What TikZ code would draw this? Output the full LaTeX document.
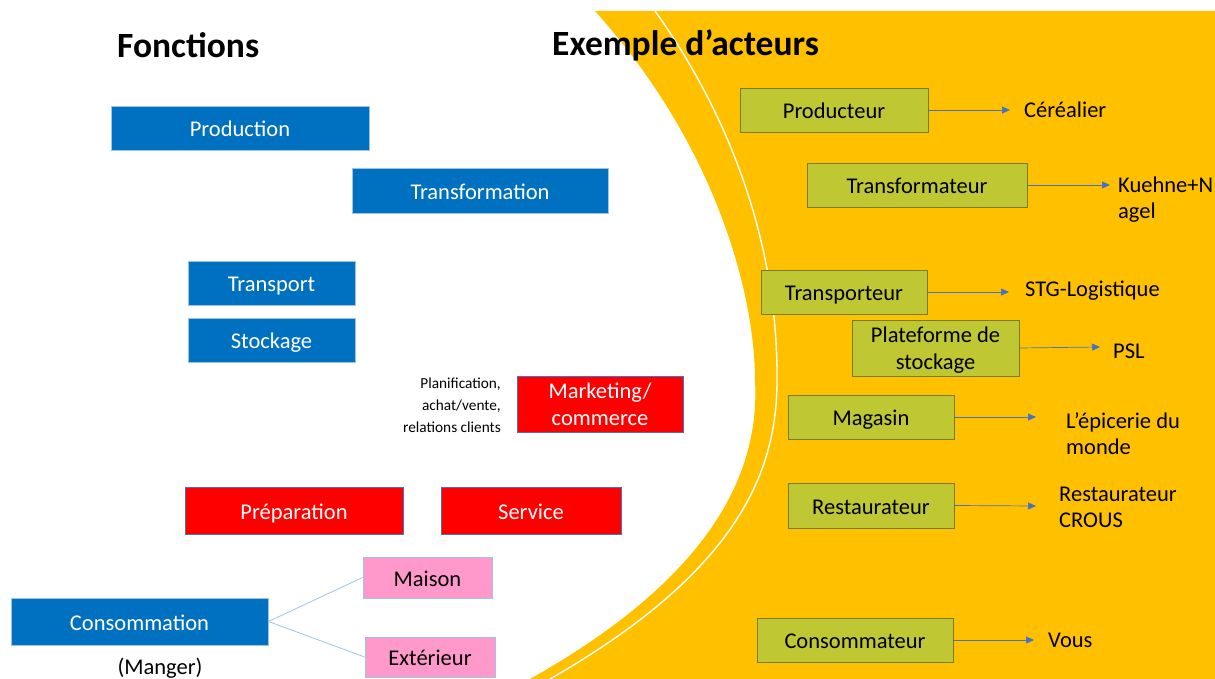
\documentclass[tikz,border=0pt]{standalone}
\usepackage{fontspec}
\setmainfont{Carlito}
\usetikzlibrary{arrows.meta}
\definecolor{cblue}{HTML}{0070C0}
\definecolor{cblueb}{HTML}{9DC3E6}
\definecolor{cred}{HTML}{FF0000}
\definecolor{credb}{HTML}{4472C4}
\definecolor{cpink}{HTML}{FF99CC}
\definecolor{cgreen}{HTML}{BFC832}
\definecolor{cgreenb}{HTML}{7A7A1E}
\definecolor{corange}{HTML}{FFC000}
\definecolor{carrow}{HTML}{4472C4}
\tikzset{
  boxtext/.style={font=\fontsize{22.5}{26}\selectfont},
  fbox/.style={rectangle, inner sep=0pt, align=center, boxtext, line width=0.8pt,
    text height=17.4pt, text depth=0pt},
  twoline/.style={font=\fontsize{22.5}{27}\selectfont, text height=42pt, text depth=0pt},
  bluebox/.style={fbox, fill=cblue, draw=cblueb, text=white},
  redbox/.style={fbox, fill=cred, draw=credb, text=white},
  pinkbox/.style={fbox, fill=cpink, draw=cblueb, text=black},
  greenbox/.style={fbox, fill=cgreen, draw=cgreenb, text=black},
  label/.style={inner sep=0pt, align=left, boxtext, anchor=west},
  arr/.style={draw=carrow, line width=0.7pt, -{Triangle[length=8pt,width=7pt]}},
  link/.style={draw=cblueb, line width=0.8pt},
  title/.style={inner sep=0pt, anchor=west, font=\fontsize{35.5}{40}\selectfont\bfseries}
}
\begin{document}
\begin{tikzpicture}[x=1pt,y=-1pt]
\useasboundingbox (0,0) rectangle (1215,679);
% orange background
\fill[corange] (595,11) -- (1215,11) -- (1215,679) -- (530,679)
  .. controls (715,575) and (760,470) .. (755,380)
  .. controls (755,300) and (720,150) .. (595,11) -- cycle;
\draw[white, line width=1.4pt] (655,11) .. controls (740,130) and (778,260) .. (777,380)
  .. controls (777,470) and (740,570) .. (550,679);
% titles
\node[title] (t1) at (117,45) {Fonctions};
\node[title] (t2) at (552,45) {Exemple d’acteurs};
% functions
\node[bluebox, minimum width=258pt, minimum height=44pt] (prod) at (240,128) {Production};
\node[bluebox, minimum width=256pt, minimum height=45pt] (trans) at (480,190.5) {Transformation};
\node[bluebox, minimum width=167pt, minimum height=44pt] (transp) at (271.5,283) {Transport};
\node[bluebox, minimum width=167pt, minimum height=44pt] (stock) at (271.5,340) {Stockage};
\node[redbox, twoline, minimum width=166pt, minimum height=56pt] (mark) at (600,404) {Marketing/\\commerce};
\node[inner sep=0pt, anchor=east, align=right, font=\fontsize{15.3}{22}\selectfont] (plan) at (501,405) {Planification,\\achat/vente,\\relations clients};
\node[redbox, minimum width=218pt, minimum height=47pt] (prep) at (294,510.5) {Préparation};
\node[redbox, minimum width=180pt, minimum height=47pt] (serv) at (531,510.5) {Service};
\node[pinkbox, minimum width=129pt, minimum height=41pt] (mais) at (427.5,577.5) {Maison};
\node[pinkbox, minimum width=130pt, minimum height=40pt] (ext) at (430,657) {Extérieur};
\node[bluebox, minimum width=257pt, minimum height=47pt] (cons) at (139.5,621.5) {Consommation};
\node[inner sep=0pt, boxtext] (mang) at (160,668) {(Manger)};
\draw[link] (cons.east) -- (mais.west);
\draw[link] (cons.east) -- (ext.west);
% actors
\node[greenbox, minimum width=188pt, minimum height=44pt] (a1) at (834,110) {Producteur};
\node[greenbox, minimum width=220pt, minimum height=44pt] (a2) at (917,185) {Transformateur};
\node[greenbox, minimum width=166pt, minimum height=44pt] (a3) at (844,292) {Transporteur};
\node[greenbox, twoline, minimum width=167pt, minimum height=56pt] (a4) at (935.5,348) {Plateforme de\\stockage};
\node[greenbox, minimum width=166pt, minimum height=44pt] (a5) at (871,417) {Magasin};
\node[greenbox, minimum width=166pt, minimum height=45pt] (a6) at (871,505.5) {Restaurateur};
\node[greenbox, minimum width=196pt, minimum height=44pt] (a7) at (855,640) {Consommateur};
% examples
\node[label] (x1) at (1024,110) {Céréalier};
\node[label] (x2) at (1118,200) {Kuehne+N\\agel};
\node[label] (x3) at (1025,291) {STG-Logistique};
\node[label] (x4) at (1113,351) {PSL};
\node[label] (x5) at (1066,434) {L’épicerie du\\monde};
\node[label] (x6) at (1059,507) {Restaurateur\\CROUS};
\node[label] (x7) at (1048,640) {Vous};
\coordinate (e1) at (1010,110);
\coordinate (e2) at (1110,185);
\coordinate (e3) at (1009,292);
\coordinate (e4) at (1100,347);
\coordinate (e5) at (1036,417);
\coordinate (e6) at (1036,506);
\coordinate (e7) at (1034,640);
\draw[arr] (a1.east) -- (e1);
\draw[arr] (a2.east) -- (e2);
\draw[arr] (a3.east) -- (e3);
\draw[arr] (a4.east) -- (e4);
\draw[arr] (a5.east) -- (e5);
\draw[arr] (a6.east) -- (e6);
\draw[arr] (a7.east) -- (e7);
\end{tikzpicture}
\end{document}
